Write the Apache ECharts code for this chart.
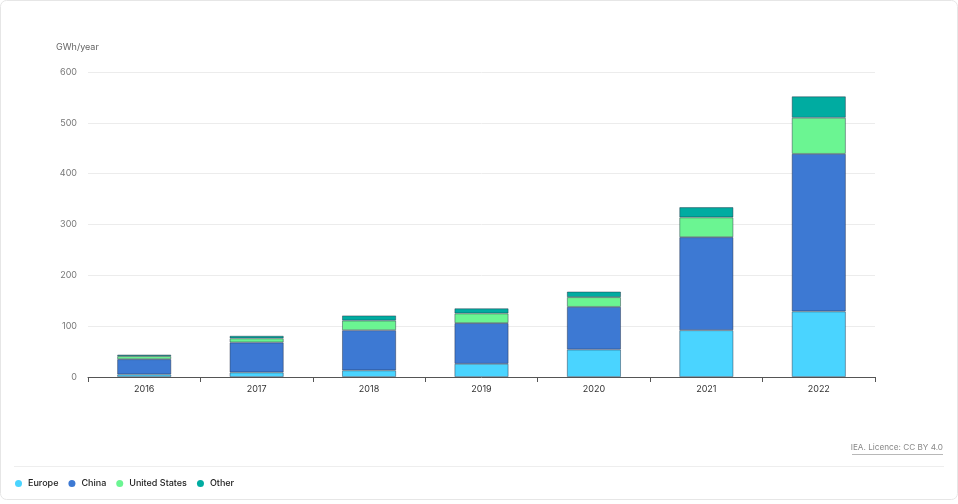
<!DOCTYPE html>
<html>
<head>
<meta charset="utf-8">
<script src="https://cdn.jsdelivr.net/npm/echarts@6/dist/echarts.min.js"></script>
<style>
html,body{margin:0;padding:0;background:#fff;}
#c{width:958px;height:504px;}
</style>
</head>
<body>
<div id="c"></div>
<script>
const years = ['2016','2017','2018','2019','2020','2021','2022'];
const europe = [5, 9, 13, 26, 54, 92, 129];
const china = [30, 59, 79, 80, 84, 183, 310];
const unitedStates = [6, 8, 19, 19, 19, 39, 71];
const other = [3, 5, 10, 10, 11, 20, 42];
const yTicks = [0, 100, 200, 300, 400, 500, 600];

const chart = echarts.init(document.getElementById('c'), null, {renderer: 'canvas'});
const font = 'Inter, "Noto Sans", sans-serif';
function s(name, data, color) {
  return {
    name: name, type: 'bar', stack: 'total', data: data, barWidth: 54,
    itemStyle: {color: color, borderColor: 'rgba(30,40,60,0.55)', borderWidth: 0.8},
    emphasis: {disabled: true}
  };
}
chart.setOption({
  animation: false,
  textStyle: {fontFamily: font},
  grid: {left: 88, right: 83, top: 72, bottom: 127, containLabel: false},
  graphic: [
    {type: 'rect', shape: {x: 0.5, y: 0.5, width: 957, height: 499, r: 6},
     style: {fill: 'none', stroke: '#e6e6e6', lineWidth: 1}, silent: true},
    {type: 'line', shape: {x1: 14, y1: 466.5, x2: 944, y2: 466.5},
     style: {stroke: '#eeeeee', lineWidth: 1}, silent: true},
    {type: 'text', left: 56, top: 43,
     style: {text: 'GWh/year', fill: '#666', font: '9px ' + font}},
    {type: 'text', right: 15, top: 444,
     style: {text: 'IEA. Licence: CC BY 4.0', fill: '#888', font: '8.2px ' + font}},
    {type: 'line', shape: {x1: 852, y1: 454.5, x2: 943, y2: 454.5},
     style: {stroke: '#999', lineWidth: 0.7}, silent: true}
  ],
  legend: {
    left: 10, top: 474, icon: 'circle', itemWidth: 7, itemHeight: 7, itemGap: 10,
    itemStyle: {borderWidth: 0},
    textStyle: {fontSize: 9, color: '#222', fontWeight: 500, fontFamily: font, padding: [0,0,0,1]},
    data: ['Europe', 'China', 'United States', 'Other']
  },
  xAxis: {
    type: 'category', data: years,
    axisLine: {lineStyle: {color: '#555', width: 1}},
    axisTick: {show: true, length: 5, lineStyle: {color: '#555'}},
    axisLabel: {color: '#333', fontSize: 9, margin: 8}
  },
  yAxis: {
    type: 'value', min: 0, max: 600, interval: 100,
    axisLine: {show: false}, axisTick: {show: false},
    axisLabel: {color: '#777', fontSize: 9, margin: 11,
      formatter: v => yTicks.includes(v) ? String(v) : ''},
    splitLine: {lineStyle: {color: '#ececec', width: 1}}
  },
  series: [
    s('Europe', europe, '#4ad4ff'),
    s('China', china, '#3d79d3'),
    s('United States', unitedStates, '#6bf592'),
    s('Other', other, '#00aca1')
  ]
});
</script>
</body>
</html>
